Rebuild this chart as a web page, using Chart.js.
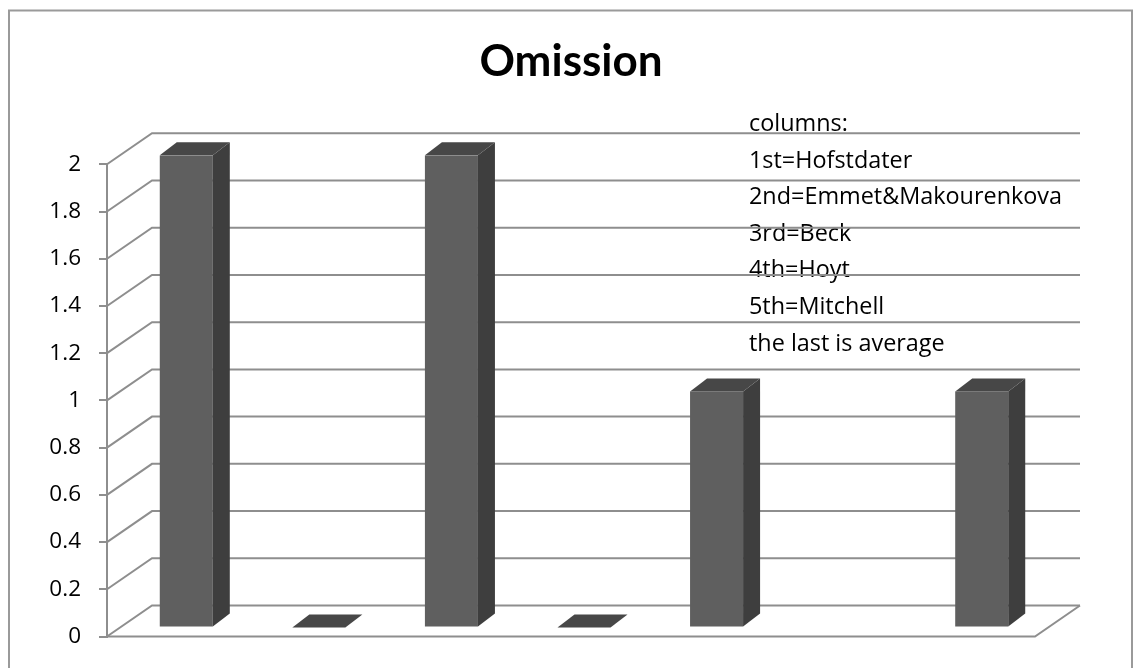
<!DOCTYPE html>
<html>
<head>
<meta charset="utf-8">
<title>Omission</title>
<script src="https://cdn.jsdelivr.net/npm/chart.js@4/dist/chart.umd.min.js"></script>
<style>
  html, body { margin: 0; padding: 0; background: #ffffff; }
  canvas { display: block; }
</style>
</head>
<body>
<canvas id="chart" width="1133" height="668"></canvas>
<script>
// Column data: five reviewers, an empty slot, then the average
const categories = ['Hofstdater', 'Emmet&Makourenkova', 'Beck', 'Hoyt', 'Mitchell', '', 'average'];
const omission = [2, 0, 2, 0, 1, null, 1];
const yTickValues = [0, 0.2, 0.4, 0.6, 0.8, 1, 1.2, 1.4, 1.6, 1.8, 2];
const yTickLabels = ['0', '0.2', '0.4', '0.6', '0.8', '1', '1.2', '1.4', '1.6', '1.8', '2'];
const chartTitle = 'Omission';
const noteLines = [
  'columns:',
  '1st=Hofstdater',
  '2nd=Emmet&Makourenkova',
  '3rd=Beck',
  '4th=Hoyt',
  '5th=Mitchell',
  'the last is average'
];

// Perspective settings for the pseudo-3D look
const WALL = { dx: 45, dy: -31 };      // depth of the back wall relative to the front plane
const BAR_SHIFT = { dx: 13, dy: -9 };  // where the bar fronts sit inside the depth
const BAR_DEPTH = { dx: 17, dy: -13 }; // thickness of each column
const GRID_COLOR = '#8e8e8e';
const FRONT_COLOR = '#5f5f5f';
const SIDE_COLOR = '#3e3e3e';
const TOP_COLOR = '#474747';
const BODY_FONT = '"Open Sans", "Noto Sans", sans-serif';

const depthPlugin = {
  id: 'depth3d',
  beforeDraw(chart) {
    const ctx = chart.ctx;
    const area = chart.chartArea;
    const y = chart.scales.y;
    ctx.save();
    // background and chart frame
    ctx.fillStyle = '#ffffff';
    ctx.fillRect(0, 0, chart.width, chart.height);
    ctx.strokeStyle = '#9a9a9a';
    ctx.lineWidth = 2;
    ctx.beginPath();
    ctx.moveTo(9, chart.height + 2);
    ctx.lineTo(9, 10.5);
    ctx.lineTo(1132, 10.5);
    ctx.lineTo(1132, chart.height + 2);
    ctx.stroke();

    // title
    ctx.fillStyle = '#000000';
    ctx.font = 'bold 44px Lato, "Open Sans", sans-serif';
    ctx.textAlign = 'center';
    ctx.textBaseline = 'alphabetic';
    ctx.fillText(chartTitle, 571, 76);

    // text box with the column key
    ctx.font = '23.4px ' + BODY_FONT;
    ctx.textAlign = 'left';
    noteLines.forEach((line, i) => {
      ctx.fillText(line, 749, 131 + i * 36.6);
    });

    // back wall gridlines with the diagonals joining the front axis
    ctx.strokeStyle = GRID_COLOR;
    ctx.lineWidth = 2;
    y.ticks.forEach(t => {
      const py = y.getPixelForValue(t.value);
      ctx.beginPath();
      ctx.moveTo(area.left, py);
      ctx.lineTo(area.left + WALL.dx, py + WALL.dy);
      ctx.lineTo(area.right + WALL.dx, py + WALL.dy);
      ctx.stroke();
    });

    // floor outline
    const y0 = y.getPixelForValue(0);
    ctx.beginPath();
    ctx.moveTo(area.left, y0);
    ctx.lineTo(area.right, y0);
    ctx.lineTo(area.right + WALL.dx, y0 + WALL.dy);
    ctx.stroke();
    ctx.restore();
  },
  beforeDatasetsDraw(chart) {
    chart.ctx.save();
    chart.ctx.translate(BAR_SHIFT.dx, BAR_SHIFT.dy);
  },
  afterDatasetsDraw(chart) {
    const ctx = chart.ctx;
    const meta = chart.getDatasetMeta(0);
    meta.data.forEach((bar, i) => {
      if (omission[i] === null || omission[i] === undefined) return;
      const p = bar.getProps(['x', 'y', 'base', 'width'], true);
      const l = p.x - p.width / 2;
      const r = p.x + p.width / 2;
      const top = Math.min(p.y, p.base);
      const bottom = Math.max(p.y, p.base);
      // side face
      if (bottom - top > 0.5) {
        ctx.fillStyle = SIDE_COLOR;
        ctx.beginPath();
        ctx.moveTo(r, top);
        ctx.lineTo(r + BAR_DEPTH.dx, top + BAR_DEPTH.dy);
        ctx.lineTo(r + BAR_DEPTH.dx, bottom + BAR_DEPTH.dy);
        ctx.lineTo(r, bottom);
        ctx.closePath();
        ctx.fill();
      }
      // top face
      ctx.fillStyle = TOP_COLOR;
      ctx.beginPath();
      ctx.moveTo(l, top);
      ctx.lineTo(l + BAR_DEPTH.dx, top + BAR_DEPTH.dy);
      ctx.lineTo(r + BAR_DEPTH.dx, top + BAR_DEPTH.dy);
      ctx.lineTo(r, top);
      ctx.closePath();
      ctx.fill();
    });
    ctx.restore();
  }
};

new Chart(document.getElementById('chart'), {
  type: 'bar',
  data: {
    labels: categories,
    datasets: [{
      label: chartTitle,
      data: omission,
      backgroundColor: FRONT_COLOR,
      borderWidth: 0,
      categoryPercentage: 0.4,
      barPercentage: 1.0
    }]
  },
  options: {
    responsive: false,
    animation: false,
    devicePixelRatio: 1,
    layout: { padding: { left: 0, right: 98, top: 164.3, bottom: 31.3 } },
    plugins: {
      legend: { display: false },
      title: { display: false },
      tooltip: { enabled: false }
    },
    scales: {
      x: { display: false },
      y: {
        min: 0,
        max: 2,
        afterBuildTicks: scale => {
          scale.ticks = yTickValues.map(v => ({ value: v }));
        },
        afterFit: scale => { scale.width = 107; },
        ticks: {
          color: '#000000',
          font: { family: BODY_FONT, size: 22.5 },
          padding: 18,
          callback: (value, index) => yTickLabels[index]
        },
        grid: {
          drawOnChartArea: false,
          drawTicks: true,
          tickLength: 8,
          color: GRID_COLOR,
          lineWidth: 2
        },
        border: { display: true, color: GRID_COLOR, width: 2 }
      }
    }
  },
  plugins: [depthPlugin]
});
</script>
</body>
</html>
